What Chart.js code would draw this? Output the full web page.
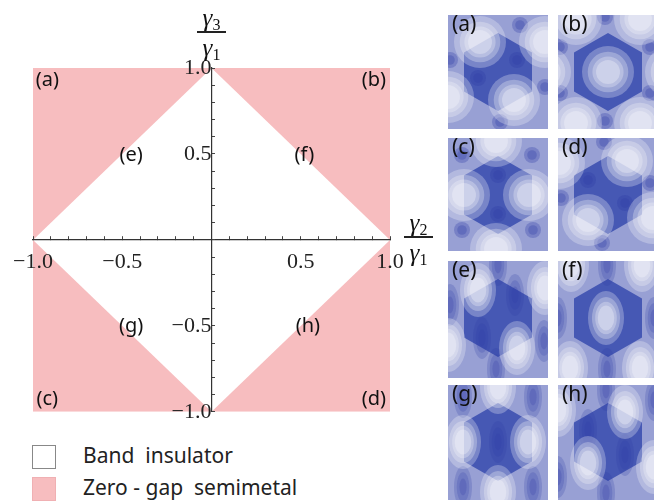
<!DOCTYPE html>
<html>
<head>
<meta charset="utf-8">
<script src="https://cdn.jsdelivr.net/npm/chart.js@4.4.1/dist/chart.umd.min.js"></script>
<style>
  body { margin: 0; background: #fff; width: 654px; height: 502px; position: relative; overflow: hidden; font-family: "Noto Sans", sans-serif; }
  canvas { position: absolute; }
  .frac { position: absolute; font-family: "Liberation Serif", serif; font-style: italic; font-size: 25px; line-height: 1; text-align: center; color: #111; }
  .frac .sub { font-style: normal; font-size: 16px; position: relative; top: 4px; }
  .frac .bar { height: 1.5px; background: #222; margin: 1px 0 2px; }
  .lg { position: absolute; left: 32px; font-size: 21px; color: #222; height: 24px; line-height: 24px; white-space: pre; }
  .lg .box { position: absolute; left: 0; top: 0; width: 22px; height: 22px; }
  .lg .txt { position: absolute; left: 51px; top: -2px; }
</style>
</head>
<body>
<canvas id="main" width="440" height="440" style="left:0;top:0"></canvas>

<div class="frac" style="left:197px;top:5px;width:29px">
  <div>γ<span class="sub">3</span></div><div class="bar"></div><div>γ<span class="sub">1</span></div>
</div>
<div class="frac" style="left:404px;top:210px;width:29px">
  <div>γ<span class="sub">2</span></div><div class="bar"></div><div>γ<span class="sub">1</span></div>
</div>

<div class="lg" style="top:445px"><span class="box" style="background:#fff;border:1px solid #888"></span><span class="txt">Band  insulator</span></div>
<div class="lg" style="top:477px"><span class="box" style="background:#f7bdbf;border:1px solid #f0b0b3"></span><span class="txt">Zero - gap  semimetal</span></div>

<canvas id="pa" width="100" height="114" style="left:448px;top:15px"></canvas>
<canvas id="pb" width="96" height="114" style="left:558px;top:15px"></canvas>
<canvas id="pc" width="100" height="113" style="left:448px;top:138px"></canvas>
<canvas id="pd" width="96" height="113" style="left:558px;top:138px"></canvas>
<canvas id="pe" width="100" height="117" style="left:448px;top:261px"></canvas>
<canvas id="pf" width="96" height="117" style="left:558px;top:261px"></canvas>
<canvas id="pg" width="100" height="115" style="left:448px;top:385px"></canvas>
<canvas id="ph" width="96" height="115" style="left:558px;top:385px"></canvas>

<script>
// phase diagram: pink square, white diamond (band insulator)
const squareX = [-1, -1, 1, 1, -1]
const squareY = [-1, 1, 1, -1, -1]
const diamondX = [0, 1, 0, -1, 0]
const diamondY = [1, 0, -1, 0, 1]

const regionNames = ['(a)', '(b)', '(c)', '(d)', '(e)', '(f)', '(g)', '(h)']
const regionX = [-0.92, 0.91, -0.92, 0.91, -0.45, 0.52, -0.45, 0.54]
const regionY = [0.93, 0.93, -0.93, -0.93, 0.49, 0.49, -0.5, -0.5]

// small panels: hexagon (Brillouin zone) and contour spots, in panel pixels
const hexX = [50, 84, 84, 50, 16, 16, 50]
const hexY = [18, 37.5, 76.5, 96, 76.5, 37.5, 18]

const spotsA = [[32, 27], [66, 85], [0, 82], [97, 27]]
const darkA = [[72, 10], [2, 45], [97, 72], [52, 107], [30, 63], [69, 45]]
const spotsB = [[50, 57], [18, 4], [82, 4], [18, 108], [82, 108], [-13, 57], [113, 57]]
const darkB = [[47, 2], [92, 32], [92, 78], [47, 106], [2, 32], [2, 78]]
const spotsC = [[16, 57], [81, 57], [48, 3], [48, 111]]
const darkC = [[50, 37], [50, 76], [84, 17], [14, 92], [85, 92], [14, 17]]
const spotsD = [[69, 23], [30, 82], [1, 25], [95, 80]]
const darkD = [[30, 42], [67, 65], [44, 105], [92, 45], [46, 4], [3, 60]]
const spotsE = [[30, 29], [69, 87], [0, 84], [97, 27]]
const darkE = [[67, 34], [34, 77], [2, 44], [96, 80], [48, 108], [50, 4]]
const spotsF = [[48, 57], [13, 4], [84, 4], [12, 107], [82, 107]]
const darkF = [[49, 4], [49, 108], [0, 57], [96, 57]]
const spotsG = [[15, 57], [80, 57], [50, 2], [50, 107]]
const darkG = [[50, 57], [15, 102], [85, 102], [85, 12], [15, 12]]
const spotsH = [[67, 27], [30, 78], [0, 25], [96, 82]]
const darkH = [[30, 45], [67, 70], [0, 92], [96, 15], [48, 5], [48, 108]]

const PINK = '#f7bdbf'
const PANEL_BG = 'rgb(152,160,212)'
const HEX_FILL = 'rgb(70,88,180)'

const pts = (xs, ys) => xs.map((x, i) => ({ x: x, y: ys[i] }))
const pairs = list => list.map(p => ({ x: p[0], y: p[1] }))

const regionLabels = {
  id: 'regionLabels',
  afterDatasetsDraw(chart) {
    const { ctx, scales } = chart
    ctx.save()
    ctx.font = '20px "Noto Sans"'
    ctx.fillStyle = '#111'
    ctx.textAlign = 'center'
    ctx.textBaseline = 'middle'
    regionNames.forEach((name, i) => {
      ctx.fillText(name, scales.x.getPixelForValue(regionX[i]), scales.y.getPixelForValue(regionY[i]))
    })
    ctx.restore()
  }
}

const tickLabel = v => {
  const t = Math.round(v * 10)
  if (t === 0 || t % 5 !== 0) return ''
  return (t < 0 ? '\u2212' : '') + Math.abs(t / 10).toFixed(1)
}

const axisOpts = (pos, pad) => ({
  type: 'linear', min: -1, max: 1, position: pos,
  border: { display: true, color: '#333', width: 1.2, z: 1 },
  grid: { drawOnChartArea: false, drawTicks: true, tickLength: -4, tickColor: '#444', z: 1 },
  ticks: {
    stepSize: 0.1, autoSkip: false, maxRotation: 0, padding: pad, z: 1,
    color: '#222', font: { family: '"Liberation Serif", serif', size: 22 },
    callback: tickLabel
  }
})

new Chart(document.getElementById('main'), {
  type: 'scatter',
  data: {
    datasets: [
      { data: pts(diamondX, diamondY), showLine: true, fill: 'shape', backgroundColor: '#fff', borderWidth: 0, pointRadius: 0, order: 1 },
      { data: pts(squareX, squareY), showLine: true, fill: 'shape', backgroundColor: PINK, borderWidth: 0, pointRadius: 0, order: 2 }
    ]
  },
  options: {
    responsive: false, animation: false, events: [],
    layout: { padding: { left: 33, top: 68, right: 50, bottom: 15 } },
    scales: {
      x: axisOpts({ y: 0 }, 13),
      y: axisOpts({ x: 0 }, 15)
    },
    plugins: { legend: { display: false }, tooltip: { enabled: false } }
  },
  plugins: [regionLabels]
})

// contour sprite: nested ellipses [size factor, alpha], each one tinting what lies under it
function sprite(rx, ry, steps, rgb) {
  const big = steps[0][0]
  const c = document.createElement('canvas')
  c.width = Math.ceil(rx * big * 2) + 2
  c.height = Math.ceil(ry * big * 2) + 2
  const g = c.getContext('2d')
  steps.forEach(([f, a]) => {
    g.fillStyle = `rgba(${rgb},${a})`
    g.beginPath()
    g.ellipse(c.width / 2, c.height / 2, rx * f, ry * f, 0, 0, Math.PI * 2)
    g.fill()
  })
  return c
}

const LIGHT = [[1, 0.28], [0.78, 0.28], [0.6, 0.3], [0.46, 0.32]]
const roundSpot = sprite(26, 26, LIGHT, '250,250,253')
const tallSpot = sprite(18, 27, LIGHT, '250,250,253')
const roundDark = sprite(8, 8, [[1, 0.3], [0.6, 0.3]], '45,60,165')
const tallDark = sprite(9, 21, [[1, 0.22], [0.7, 0.22], [0.4, 0.22]], '45,60,165')

const panelBg = {
  id: 'panelBg',
  beforeDraw(chart) {
    const { ctx, chartArea: a } = chart
    ctx.save()
    ctx.fillStyle = PANEL_BG
    ctx.fillRect(a.left, a.top, a.right - a.left, a.bottom - a.top)
    ctx.restore()
  },
  afterDraw(chart, args, opts) {
    const ctx = chart.ctx
    ctx.save()
    ctx.font = '21px "Noto Sans"'
    ctx.fillStyle = '#111'
    ctx.textBaseline = 'top'
    ctx.fillText(opts.text, 4, 0)
    ctx.restore()
  }
}

function panel(id, label, spots, dark, tall) {
  const el = document.getElementById(id)
  new Chart(el, {
    type: 'scatter',
    data: {
      datasets: [
        { data: pairs(spots), pointStyle: tall ? tallSpot : roundSpot, pointRadius: 40, order: 1 },
        { data: pairs(dark), pointStyle: tall ? tallDark : roundDark, pointRadius: 30, order: 2 },
        { data: pts(hexX, hexY), showLine: true, fill: 'shape', backgroundColor: HEX_FILL, borderWidth: 0, pointRadius: 0, order: 3 }
      ]
    },
    options: {
      responsive: false, animation: false, events: [],
      layout: { padding: 0, autoPadding: false },
      scales: {
        x: { display: false, min: 0, max: el.width },
        y: { display: false, min: 0, max: el.height, reverse: true }
      },
      plugins: { legend: { display: false }, tooltip: { enabled: false }, panelBg: { text: label } }
    },
    plugins: [panelBg]
  })
}

panel('pa', '(a)', spotsA, darkA, false)
panel('pb', '(b)', spotsB, darkB, false)
panel('pc', '(c)', spotsC, darkC, false)
panel('pd', '(d)', spotsD, darkD, false)
panel('pe', '(e)', spotsE, darkE, true)
panel('pf', '(f)', spotsF, darkF, true)
panel('pg', '(g)', spotsG, darkG, true)
panel('ph', '(h)', spotsH, darkH, true)
</script>
</body>
</html>
